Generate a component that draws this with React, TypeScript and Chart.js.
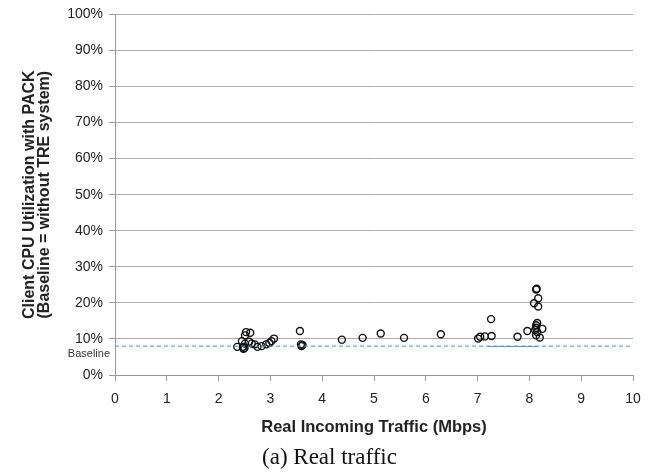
import React, { useEffect, useRef } from 'react';
import { Chart, registerables } from 'chart.js';

Chart.register(...registerables);

// Real incoming traffic (Mbps) for each measurement
const trafficMbps = [
  2.36, 2.45, 2.47, 2.48, 2.5, 2.51, 2.53, 2.61, 2.51, 2.59, 2.64, 2.7, 2.75, 2.83, 2.92, 2.98, 3.02, 3.07,
  3.57, 3.59, 3.62, 3.6,
  4.38, 4.78, 5.13, 5.58, 6.29,
  7.01, 7.05, 7.14, 7.27, 7.26, 7.77, 7.96,
  8.13, 8.14, 8.17, 8.09, 8.17, 8.15, 8.13, 8.13, 8.11, 8.25, 8.15, 8.13, 8.2,
];
// Client CPU utilization (%) for each measurement
const cpuUtilPct = [
  7.8, 9.4, 7.8, 7.3, 7.5, 11.0, 11.9, 11.7, 8.7, 9.2, 8.7, 8.5, 7.8, 8.0, 8.5, 8.9, 9.4, 10.1,
  12.2, 8.5, 8.3, 8.0,
  9.8, 10.3, 11.5, 10.3, 11.3,
  10.1, 10.6, 10.7, 10.8, 15.5, 10.6, 12.2,
  23.7, 23.9, 21.3, 19.9, 19.0, 14.4, 13.8, 13.1, 12.5, 12.8, 11.9, 11.0, 10.4,
];

const baselinePct = 8;
const baselineRange = [0, 10];
const solidSegmentX = [7.2, 8.15];
const solidSegmentY = 7.9;
const baselineLabelAt = 5.8;
const captionText = '(a) Real traffic';

const xTickValues = [0, 1, 2, 3, 4, 5, 6, 7, 8, 9, 10];
const yTickValues = [0, 10, 20, 30, 40, 50, 60, 70, 80, 90, 100];

const SANS = 'Arial, "Liberation Sans", Helvetica, sans-serif';
const SERIF = '"Times New Roman", "Liberation Serif", Times, serif';

const annotationsPlugin = {
  id: 'annotations',
  afterDraw(chart: any) {
    const { ctx, chartArea, scales, width, height } = chart;
    ctx.save();
    ctx.font = `11px ${SANS}`;
    ctx.fillStyle = '#333';
    ctx.textAlign = 'right';
    ctx.textBaseline = 'middle';
    ctx.fillText('Baseline', chartArea.left - 5, scales.y.getPixelForValue(baselineLabelAt));
    ctx.font = `23px ${SERIF}`;
    ctx.fillStyle = '#111';
    ctx.textAlign = 'center';
    ctx.textBaseline = 'middle';
    ctx.fillText(captionText, width / 2, height - 14);
    ctx.restore();
  },
};

export default function App() {
  const canvasRef = useRef<HTMLCanvasElement | null>(null);

  useEffect(() => {
    if (!canvasRef.current) return;
    const points = trafficMbps.map((x, i) => ({ x, y: cpuUtilPct[i] }));
    const chart = new Chart(canvasRef.current, {
      type: 'scatter',
      data: {
        datasets: [
          {
            type: 'line',
            data: baselineRange.map((x) => ({ x, y: baselinePct })),
            borderColor: '#4a8fd8',
            borderWidth: 1,
            borderDash: [4, 3],
            pointRadius: 0,
            fill: false,
          } as any,
          {
            type: 'line',
            data: solidSegmentX.map((x) => ({ x, y: solidSegmentY })),
            borderColor: '#5a8fd0',
            borderWidth: 1.2,
            pointRadius: 0,
            fill: false,
          } as any,
          {
            data: points,
            pointRadius: 3.5,
            pointHoverRadius: 3.5,
            borderWidth: 1.4,
            borderColor: '#111',
            backgroundColor: 'rgba(0,0,0,0)',
          },
        ],
      },
      options: {
        animation: false,
        responsive: false,
        layout: { padding: { top: 10, right: 26, left: 0, bottom: 29 } },
        plugins: {
          legend: { display: false },
          tooltip: { enabled: false },
          title: { display: false },
        },
        scales: {
          x: {
            type: 'linear',
            min: 0,
            max: 10,
            afterBuildTicks: (scale: any) => {
              scale.ticks = xTickValues.map((value) => ({ value }));
            },
            afterFit: (scale: any) => {
              scale.height = 68;
            },
            ticks: {
              color: '#222',
              font: { family: SANS, size: 14 },
              padding: 10,
              maxRotation: 0,
            },
            grid: { drawOnChartArea: false, tickLength: 6, color: '#999' },
            border: { color: '#999' },
            title: {
              display: true,
              text: 'Real Incoming Traffic (Mbps)',
              color: '#222',
              font: { family: SANS, size: 16.5, weight: 'bold' },
              padding: { top: 0, bottom: 6 },
            },
          },
          y: {
            type: 'linear',
            min: 0,
            max: 100,
            afterBuildTicks: (scale: any) => {
              scale.ticks = yTickValues.map((value) => ({ value }));
            },
            afterFit: (scale: any) => {
              scale.width = 115;
            },
            ticks: {
              color: '#222',
              font: { family: SANS, size: 14 },
              padding: 6,
              callback: (v: any) => `${v}%`,
            },
            grid: { color: '#adadad', tickColor: '#999', tickLength: 6 },
            border: { color: '#999' },
            title: {
              display: true,
              text: ['Client CPU Utilization with PACK', '(Baseline = without TRE system)'],
              color: '#222',
              font: { family: SANS, size: 16, weight: 'bold', lineHeight: 0.95 },
              padding: { top: 22, bottom: 0 },
            },
          },
        },
      },
      plugins: [annotationsPlugin],
    });
    return () => chart.destroy();
  }, []);

  return (
    <div style={{ position: 'absolute', left: 0, top: 0, width: 659, height: 472, background: '#fff' }}>
      <canvas ref={canvasRef} width={659} height={472} style={{ width: 659, height: 472 }} />
    </div>
  );
}
